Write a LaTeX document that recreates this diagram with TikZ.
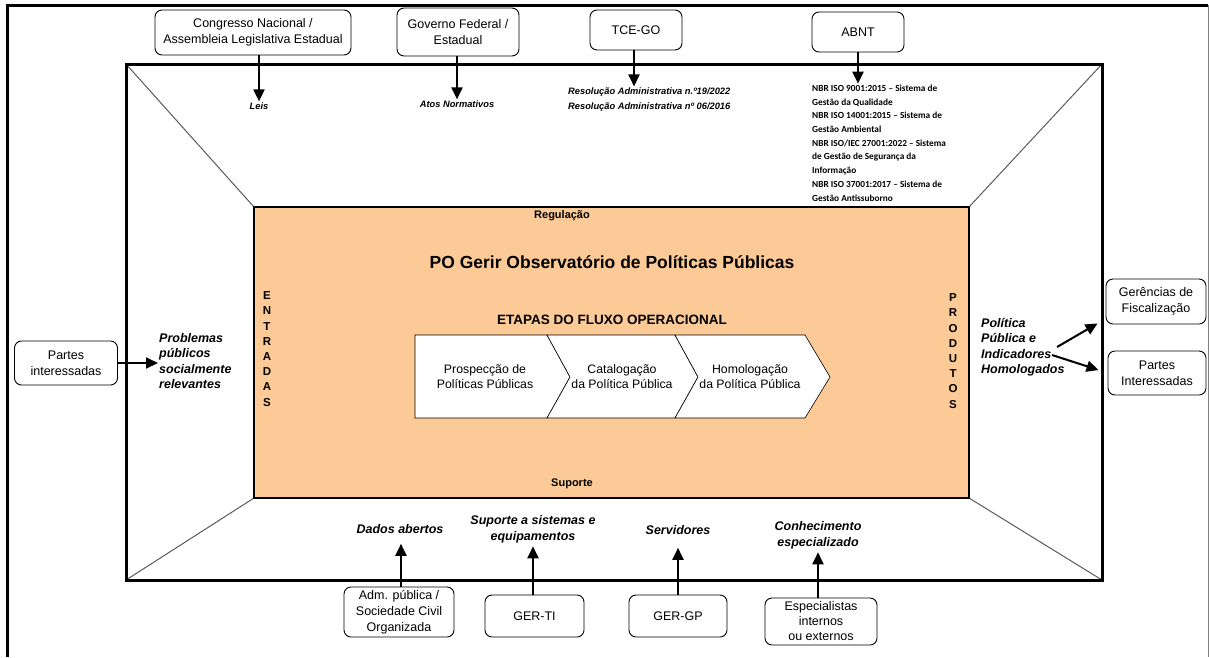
\documentclass[tikz,border=0pt]{standalone}
\usepackage{fontspec}
\setmainfont{Liberation Sans}
\newfontfamily\calibfont{Carlito}
\usepackage{tikz}
\usetikzlibrary{arrows.meta}

\definecolor{processfill}{RGB}{252,202,150}
\definecolor{diagline}{RGB}{90,90,90}

\begin{document}
\begin{tikzpicture}[x=1pt,y=-1pt,>={Triangle[length=12pt,width=11pt]},
                    line join=miter]
  \tikzstyle{actor}=[draw,rounded corners=7pt,align=center,line width=0.9pt,
                     font=\fontsize{12.5}{16}\selectfont,inner sep=2pt]
  \tikzstyle{flow}=[align=left,inner sep=1pt,
                    font=\fontsize{12.5}{15.5}\selectfont\bfseries\itshape]
  \tikzstyle{smallflow}=[align=left,inner sep=1pt,
                         font=\fontsize{9.3}{15}\selectfont\bfseries\itshape]
  \tikzstyle{stage}=[align=center,inner sep=1pt,
                     font=\fontsize{12.3}{15}\selectfont]
  \tikzstyle{feed}=[->,line width=2pt]
  \tikzstyle{vertical}=[align=center,inner sep=0pt,
                        font=\fontsize{11.5}{15.2}\selectfont\bfseries]

  \useasboundingbox (0,0) rectangle (1209,657);

  % page frame
  \draw[line width=3pt] (7,657) -- (7,5) -- (1208,5);
  \draw[line width=0.8pt,gray] (1208,5) -- (1208,657);

  % environment box with perspective lines
  \draw[diagline,line width=1pt] (126,64) -- (254,207)
                                 (1102,64) -- (969,207)
                                 (126,580) -- (254,498)
                                 (1102,580) -- (969,498);
  \draw[line width=3pt] (126,64) rectangle (1102,580);

  % process box
  \draw[fill=processfill,line width=1.5pt] (254,207) rectangle (969,498);
  \node[font=\fontsize{11}{12}\selectfont\bfseries] (regul) at (562,216) {Regulação};
  \node[font=\fontsize{11}{12}\selectfont\bfseries] (suporte) at (572,484) {Suporte};
  \node[font=\fontsize{17.5}{20}\selectfont\bfseries] (title) at (612,262)
       {PO Gerir Observatório de Políticas Públicas};
  \node[font=\fontsize{13.5}{16}\selectfont\bfseries] (etapas) at (612,320)
       {ETAPAS DO FLUXO OPERACIONAL};
  \node[vertical] (entradas) at (267,349) {E\\N\\T\\R\\A\\D\\A\\S};
  \node[vertical] (produtos) at (953,351) {P\\R\\O\\D\\U\\T\\O\\S};

  % operational flow
  \draw[fill=white,line width=0.6pt] (415,335) -- (547,335) -- (570,377)
       -- (547,418) -- (415,418) -- cycle;
  \draw[fill=white,line width=0.6pt] (547,335) -- (675,335) -- (698,377)
       -- (675,418) -- (547,418) -- (570,377) -- cycle;
  \draw[fill=white,line width=0.6pt] (675,335) -- (805,335) -- (830,377)
       -- (805,418) -- (675,418) -- (698,377) -- cycle;
  \node[stage] (prosp) at (485,377) {Prospecção de\\Políticas Públicas};
  \node[stage] (catal) at (622,377) {Catalogação\\da Política Pública};
  \node[stage] (homol) at (750,377) {Homologação\\da Política Pública};

  % regulation
  \node[actor,minimum width=196pt,minimum height=45pt] (congresso) at (253,32.5)
       {Congresso Nacional /\\Assembleia Legislativa Estadual};
  \node[actor,minimum width=122pt,minimum height=48pt] (governo) at (458,32)
       {Governo Federal /\\Estadual};
  \node[actor,minimum width=92pt,minimum height=40pt] (tce) at (636,30) {TCE-GO};
  \node[actor,minimum width=92pt,minimum height=40pt] (abnt) at (858,32) {ABNT};

  \node[smallflow] (leis) at (259,106) {Leis};
  \node[smallflow] (atos) at (457,104) {Atos Normativos};
  \node[smallflow,anchor=west] (resol) at (567,99.5)
       {Resolução Administrativa n.º19/2022\\Resolução Administrativa nº 06/2016};
  \node[align=left,anchor=west,inner sep=1pt,
        font=\calibfont\fontsize{9.3}{13.7}\selectfont\bfseries] (normas) at (811,143)
       {NBR ISO 9001:2015 – Sistema de\\Gestão da Qualidade\\
        NBR ISO 14001:2015 – Sistema de\\Gestão Ambiental\\
        NBR ISO/IEC 27001:2022 – Sistema\\de Gestão de Segurança da\\Informação\\
        NBR ISO 37001:2017 – Sistema de\\Gestão Antissuborno};

  \draw[feed] (congresso.south -| leis) -- (leis.north);
  \draw[feed] (governo.south -| atos) -- (atos.north);
  \draw[feed] ([xshift=-2pt]tce.south) -- ([xshift=-2pt]tce.south |- resol.north);
  \draw[feed] (abnt.south) -- (abnt.south |- normas.north);

  % inputs
  \node[actor,minimum width=103pt,minimum height=44pt] (partesA) at (66,363)
       {Partes\\interessadas};
  \node[flow,anchor=west] (problemas) at (158,361)
       {Problemas\\públicos\\socialmente\\relevantes};
  \draw[feed] (partesA.east) -- (problemas.west |- partesA.east);

  % outputs
  \node[flow,anchor=west] (politica) at (980,347)
       {Política\\Pública e\\Indicadores\\Homologados};
  \node[actor,minimum width=100pt,minimum height=45pt] (gerencias) at (1156,301.5)
       {Gerências de\\Fiscalização};
  \node[actor,minimum width=98pt,minimum height=44pt] (partesB) at (1157,373)
       {Partes\\Interessadas};
  \coordinate (saidaA) at (1057,347);
  \coordinate (saidaB) at (1052,355);
  \draw[feed] (saidaA) -- ([xshift=-8pt,yshift=1pt]gerencias.south west);
  \draw[feed] (saidaB) -- ([xshift=-9pt,yshift=3pt]partesB.west);

  % support
  \node[actor,minimum width=110pt,minimum height=50pt] (adm) at (399,612)
       {Adm. pública /\\Sociedade Civil\\Organizada};
  \node[actor,minimum width=99pt,minimum height=42pt] (gerti) at (534.5,616) {GER-TI};
  \node[actor,minimum width=98pt,minimum height=42pt] (gergp) at (678,616) {GER-GP};
  \node[actor,minimum width=112pt,minimum height=47pt,
        font=\fontsize{12.5}{15}\selectfont] (especialistas) at (821,621.5)
       {Especialistas\\internos\\ou externos};

  \node[flow,align=center] (dados) at (400,529) {Dados abertos};
  \node[flow,align=center] (sistemas) at (533,529.5) {Suporte a sistemas e\\equipamentos};
  \node[flow,align=center] (servidores) at (678,530) {Servidores};
  \node[flow,align=center] (conhecimento) at (818,535.5) {Conhecimento\\especializado};

  \draw[feed,shorten >=9pt] ([xshift=2pt]adm.north) -- ([xshift=2pt]adm.north |- dados.south);
  \draw[feed,shorten >=2pt] (gerti.north -| sistemas) -- (sistemas.south);
  \draw[feed,shorten >=12pt] (gergp.north) -- (gergp.north |- servidores.south);
  \draw[feed,shorten >=2pt] ([xshift=-3pt]especialistas.north) -- ([xshift=-3pt]especialistas.north |- conhecimento.south);
\end{tikzpicture}
\end{document}
